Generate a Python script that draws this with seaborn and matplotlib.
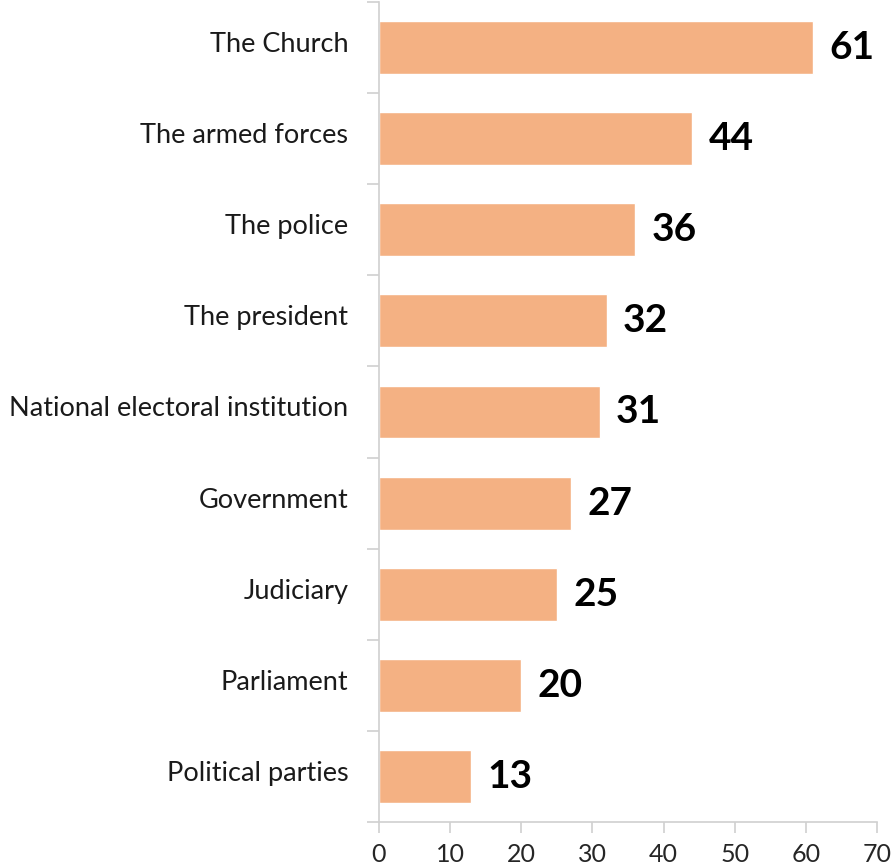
import matplotlib
matplotlib.use("Agg")
import matplotlib.pyplot as plt
import matplotlib.transforms as mtransforms
import seaborn as sns
import pandas as pd
import numpy as np

categories = ["The Church", "The armed forces", "The police", "The president",
              "National electoral institution", "Government", "Judiciary",
              "Parliament", "Political parties"]
values = [61, 44, 36, 32, 31, 27, 25, 20, 13]
xticks = [0, 10, 20, 30, 40, 50, 60, 70]

sns.set_theme(style="white")
plt.rcParams['font.family'] = ['Lato', 'DejaVu Sans']

df = pd.DataFrame({"cat": categories, "val": values})

fig = plt.figure(figsize=(8.92, 8.65), dpi=100)
ax = fig.add_axes([379/892, 43/865, (877-379)/892, (865-43-2)/865])

sns.barplot(data=df, y="cat", x="val", color="#F4B183", saturation=1,
            width=0.58, ax=ax, orient="h")

ax.set_xlim(0, 70)
ax.set_ylim(len(categories) - 0.5, -0.5)
ax.set_xticks(xticks)
ax.set_xticklabels([str(t) for t in xticks], fontsize=18, color="#262626")
ax.set_xlabel("")
ax.set_ylabel("")
ax.tick_params(axis="y", which="major", length=0, pad=22, labelsize=19.5, labelcolor="#1a1a1a")
shift = mtransforms.ScaledTranslation(0, 4/72, fig.dpi_scale_trans)
for lbl in ax.get_yticklabels():
    lbl.set_va("center_baseline")
    lbl.set_transform(lbl.get_transform() + shift)
ax.set_yticks(np.arange(-0.5, len(categories), 1), minor=True)
ax.tick_params(axis="y", which="minor", length=9, color="#d0d0d0", width=1.2, left=True)
ax.tick_params(axis="x", which="major", length=8, color="#d0d0d0", width=1.2, bottom=True, pad=7)

for s in ["top", "right"]:
    ax.spines[s].set_visible(False)
for s in ["left", "bottom"]:
    ax.spines[s].set_color("#d0d0d0")
    ax.spines[s].set_linewidth(1.2)

for i, v in enumerate(values):
    ax.text(v + 2.3, i, str(v), va="center", ha="left", fontsize=28,
            fontweight="bold", color="black")

fig.savefig("out.png", dpi=100)
